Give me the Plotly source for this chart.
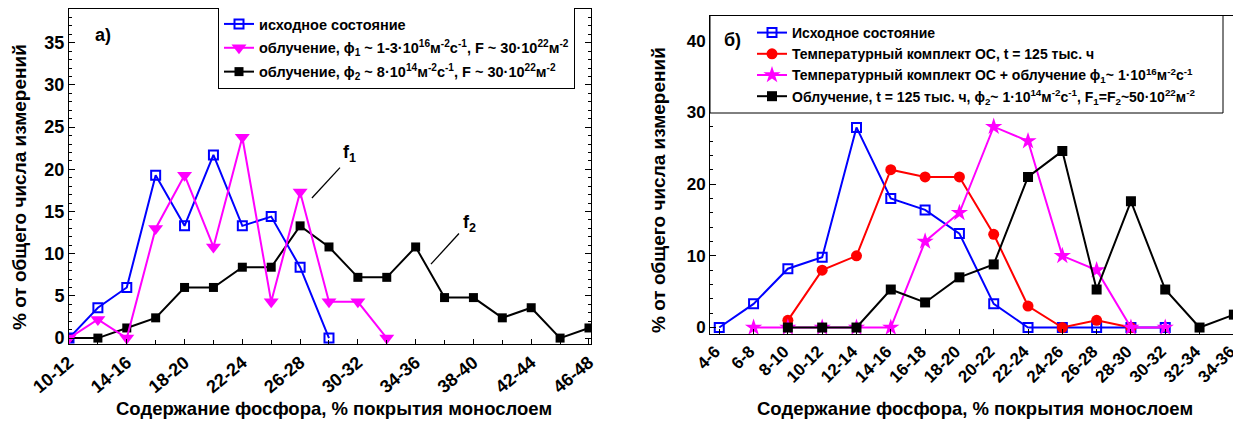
import plotly.graph_objects as go

# ---------------- data: panel a) ----------------
cats_a = ["10-12", "12-14", "14-16", "16-18", "18-20", "20-22", "22-24", "24-26", "26-28",
          "28-30", "30-32", "32-34", "34-36", "36-38", "38-40", "40-42", "42-44", "44-46", "46-48"]
a_initial = [0, 3.6, 6.0, 19.3, 13.3, 21.7, 13.3, 14.4, 8.4, 0]
a_flux1 = [0, 2.2, 0, 13.0, 19.3, 10.8, 23.8, 4.3, 17.3, 4.3, 4.3, 0]
a_flux2 = [0, 0, 1.2, 2.4, 6.0, 6.0, 8.4, 8.4, 13.3, 10.8, 7.2, 7.2, 10.8, 4.8, 4.8, 2.4, 3.6, 0, 1.2]

# ---------------- data: panel б) ----------------
cats_b = ["4-6", "6-8", "8-10", "10-12", "12-14", "14-16", "16-18", "18-20", "20-22", "22-24",
          "24-26", "26-28", "28-30", "30-32", "32-34", "34-36"]
b_initial = [0, 3.3, 8.2, 9.8, 27.9, 18.0, 16.4, 13.1, 3.3, 0, 0, 0, 0, 0]          # from 4-6
b_thermal = [1.0, 8.0, 10.0, 22.0, 21.0, 21.0, 13.0, 3.0, 0, 1.0, 0]                 # from 8-10
b_thermal_irr = [0, 0, 0, 0, 0, 12.0, 16.0, 28.0, 26.0, 10.0, 8.0, 0, 0]             # from 6-8
b_irr = [0, 0, 0, 5.3, 3.5, 7.0, 8.8, 21.0, 24.6, 5.3, 17.6, 5.3, 0, 1.8]            # from 8-10

labels_a = ["исходное состояние",
            "облучение, ϕ<sub>1</sub> ~ 1-3·10<sup>16</sup>м<sup>-2</sup>с<sup>-1</sup>, F ~ 30·10<sup>22</sup>м<sup>-2</sup>",
            "облучение, ϕ<sub>2</sub> ~ 8·10<sup>14</sup>м<sup>-2</sup>с<sup>-1</sup>, F ~ 30·10<sup>22</sup>м<sup>-2</sup>"]
labels_b = ["Исходное состояние",
            "Температурный комплект ОС, t = 125 тыс. ч",
            "Температурный комплект ОС + облучение ϕ<sub>1</sub>~ 1·10<sup>16</sup>м<sup>-2</sup>с<sup>-1</sup>",
            "Облучение, t = 125 тыс. ч, ϕ<sub>2</sub>~ 1·10<sup>14</sup>м<sup>-2</sup>с<sup>-1</sup>, F<sub>1</sub>=F<sub>2</sub>~50·10<sup>22</sup>м<sup>-2</sup>"]

FONT = "Liberation Sans"
# the page body adds an 8 px margin, so the figure is 8 px smaller and shifted
OFF = 8
W, H = 1241 - OFF, 422 - OFF
BLUE, MAG, RED, BLK = "#0000FF", "#FF00FF", "#FF0000", "#000000"


def bf(size):
    return dict(family=FONT, size=size, color="black", weight="bold")


def pos_a(n):
    # positions of the first n categories of panel a) on its linear axis
    return [cats_a.index(c) for c in cats_a[:n]]


def px_x(p):
    return (p - OFF) / W


def px_y(p):
    return 1 - (p - OFF) / H


fig = go.Figure()

# panel a) traces (draw order: black, blue, magenta; legend order via legendrank)
fig.add_trace(go.Scatter(x=pos_a(len(a_flux2)), y=a_flux2, name=labels_a[2], mode="lines+markers",
                         line=dict(color=BLK, width=2), marker=dict(symbol="square", size=9, color=BLK),
                         xaxis="x", yaxis="y", legend="legend", legendrank=3, legendgroup="a3"))
fig.add_trace(go.Scatter(x=pos_a(len(a_initial)), y=a_initial, name=labels_a[0], mode="lines+markers",
                         line=dict(color=BLUE, width=2),
                         marker=dict(symbol="square-open", size=9, color=BLUE, line=dict(width=2)),
                         xaxis="x", yaxis="y", legend="legend", legendrank=1, legendgroup="a1"))
fig.add_trace(go.Scatter(x=pos_a(len(a_flux1)), y=a_flux1, name=labels_a[1], mode="lines+markers",
                         line=dict(color=MAG, width=2), marker=dict(symbol="triangle-down", size=13, color=MAG),
                         xaxis="x", yaxis="y", legend="legend", legendrank=2, legendgroup="a2"))

# panel б) traces
fig.add_trace(go.Scatter(x=cats_b[0:len(b_initial)], y=b_initial, name=labels_b[0], mode="lines+markers",
                         line=dict(color=BLUE, width=2),
                         marker=dict(symbol="square-open", size=9, color=BLUE, line=dict(width=2)),
                         xaxis="x2", yaxis="y2", legend="legend2", legendrank=1, legendgroup="b1"))
fig.add_trace(go.Scatter(x=cats_b[2:2 + len(b_thermal)], y=b_thermal, name=labels_b[1], mode="lines+markers",
                         line=dict(color=RED, width=2), marker=dict(symbol="circle", size=11, color=RED),
                         xaxis="x2", yaxis="y2", legend="legend2", legendrank=2, legendgroup="b2"))
fig.add_trace(go.Scatter(x=cats_b[1:1 + len(b_thermal_irr)], y=b_thermal_irr, name=labels_b[2], mode="lines+markers",
                         line=dict(color=MAG, width=2), marker=dict(symbol="star", size=13, color=MAG),
                         xaxis="x2", yaxis="y2", legend="legend2", legendrank=3, legendgroup="b3"))
fig.add_trace(go.Scatter(x=cats_b[2:2 + len(b_irr)], y=b_irr, name=labels_b[3], mode="lines+markers",
                         line=dict(color=BLK, width=2), marker=dict(symbol="square", size=10, color=BLK),
                         xaxis="x2", yaxis="y2", legend="legend2", legendrank=4, legendgroup="b4"))

common_x = dict(showgrid=False, zeroline=False, showline=True, linecolor="black", automargin=False,
                linewidth=1, mirror=True, ticks="inside", ticklen=5, tickcolor="black",
                tickfont=bf(18))
common_y = dict(showgrid=False, zeroline=False, showline=True, linecolor="black", linewidth=1,
                automargin=False, mirror="allticks", ticks="inside", ticklen=6, tickcolor="black",
                tickfont=bf(18))

fig.update_layout(
    width=W, height=H, margin=dict(l=0, r=0, t=0, b=0, autoexpand=False), autosize=False,
    paper_bgcolor="white", plot_bgcolor="white",
    font=bf(14),
    xaxis=dict(common_x, type="linear", domain=[px_x(69), px_x(591)], anchor="y", range=[0, 18.07],
               tickmode="array", tickvals=list(range(0, len(cats_a), 2)),
               ticktext=cats_a[0::2], tickangle=-40,
               minor=dict(ticks="inside", ticklen=4, dtick=1, tick0=0, tickcolor="black")),
    yaxis=dict(common_y, domain=[px_y(344), px_y(9)], anchor="x", range=[-0.7, 39.0],
               tickmode="linear", tick0=0, dtick=5,
               minor=dict(ticks="inside", ticklen=3, dtick=1, tickcolor="black")),
    xaxis2=dict(common_x, type="category", domain=[px_x(710), px_x(1239)], anchor="y2",
                categoryorder="array", categoryarray=cats_b, range=[-0.27, 15.15],
                tickmode="array", tickvals=cats_b, ticktext=cats_b, tickangle=-45,
                tickfont=bf(17), ticklabelshift=-4),
    yaxis2=dict(common_y, domain=[px_y(334), px_y(15.5)], anchor="x2", range=[-0.9, 43.5],
                tickmode="linear", tick0=0, dtick=10, tickfont=bf(17),
                minor=dict(ticks="inside", ticklen=3, dtick=2, tickcolor="black")),
    legend=dict(x=px_x(218), y=px_y(7), xanchor="left", yanchor="top", bgcolor="white",
                bordercolor="black", borderwidth=1, font=bf(14.5), tracegroupgap=2,
                traceorder="grouped"),
    legend2=dict(x=px_x(752), y=px_y(17), xanchor="left", yanchor="top", bgcolor="rgba(0,0,0,0)",
                 borderwidth=0, font=bf(14), tracegroupgap=0, traceorder="grouped"),
    showlegend=True,
)

# legend box of panel б)
fig.add_shape(type="rect", xref="paper", yref="paper", x0=px_x(710), x1=px_x(1223),
              y0=px_y(113), y1=px_y(15.5), fillcolor="white", line=dict(color="black", width=1),
              layer="above")

# leader lines for f1 / f2 (data coordinates of panel a)
fig.add_shape(type="line", xref="x", yref="y", x0=9.38, y0=20.2, x1=8.41, y1=16.6,
              line=dict(color="black", width=1.3))
fig.add_shape(type="line", xref="x", yref="y", x0=13.5, y0=12.4, x1=12.53, y1=8.76,
              line=dict(color="black", width=1.3))

ann = [
    dict(text="f<sub>1</sub>", x=9.7, y=21.9, xref="x", yref="y", font=bf(18)),
    dict(text="f<sub>2</sub>", x=13.85, y=13.6, xref="x", yref="y", font=bf(18)),
    dict(text="а)", x=px_x(103), y=px_y(35), xref="paper", yref="paper", font=bf(18)),
    dict(text="б)", x=px_x(732), y=px_y(40), xref="paper", yref="paper", font=bf(18)),
    dict(text="% от общего числа измерений", x=px_x(20), y=px_y(187), xref="paper", yref="paper",
         textangle=-90, font=bf(19)),
    dict(text="% от общего числа измерений", x=px_x(659), y=px_y(190), xref="paper", yref="paper",
         textangle=-90, font=bf(19)),
    dict(text="Содержание фосфора, % покрытия монослоем", x=px_x(334), y=px_y(408),
         xref="paper", yref="paper", font=bf(18.5)),
    dict(text="Содержание фосфора, % покрытия монослоем", x=px_x(975), y=px_y(408),
         xref="paper", yref="paper", font=bf(18.5)),
]
for a in ann:
    fig.add_annotation(showarrow=False, xanchor="center", yanchor="middle", **a)

fig.write_html("out.html")
